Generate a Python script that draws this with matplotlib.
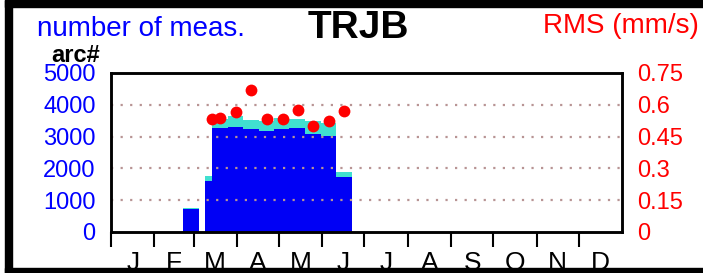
import numpy as np
import matplotlib
matplotlib.use("Agg")
import matplotlib.pyplot as plt
from matplotlib.patches import Rectangle

plt.rcParams['font.family'] = ['Liberation Sans', 'DejaVu Sans']

# day-of-year bins (left/right edges) and counts
bin_left = [51.4, 67.1, 72.4, 83.6, 94.3, 105.7, 116.6, 127.4, 138.6, 149.8, 160.5]
bin_right = [62.6, 72.4, 83.6, 94.3, 105.7, 116.6, 127.4, 138.6, 149.8, 160.5, 172.1]
arc_main = [716, 1600, 3262, 3293, 3230, 3177, 3252, 3262, 3095, 3019, 1738]
arc_total = [770, 1748, 3568, 3640, 3536, 3500, 3577, 3546, 3492, 3442, 1883]

# RMS points
rms_day = [72.4, 78.1, 89.1, 100.1, 111.1, 122.6, 133.4, 144.5, 155.5, 166.6]
rms_val = [0.535, 0.540, 0.566, 0.670, 0.535, 0.535, 0.574, 0.502, 0.522, 0.570]

month_start = [0, 31, 59, 90, 120, 151, 181, 212, 243, 273, 304, 334, 365]
month_lab = ['J', 'F', 'M', 'A', 'M', 'J', 'J', 'A', 'S', 'O', 'N', 'D']

left_ticks = [0, 1000, 2000, 3000, 4000, 5000]
right_ticks = [0, 0.15, 0.3, 0.45, 0.6, 0.75]
right_lab = ['0', '0.15', '0.3', '0.45', '0.6', '0.75']

W, H = 703, 273
fig = plt.figure(figsize=(W / 100, H / 100), dpi=100)
ax = fig.add_axes([111 / W, 41 / H, 511 / W, 159 / H])

left = np.array(bin_left)
width = np.array(bin_right) - left
main = np.array(arc_main)
extra = np.array(arc_total) - main
ax.bar(left, main, width=width, align='edge', color='#0000f5', linewidth=0, zorder=1)
ax.bar(left, extra, bottom=main, width=width, align='edge', color='#40e0d0', linewidth=0, zorder=1)

for v in left_ticks[1:-1]:
    ax.axhline(v, color='#b89494', lw=1.6, dashes=(1, 3.3), zorder=2)

ax.set_xlim(0, 365)
ax.set_ylim(0, 5000)
ax.set_yticks(left_ticks)
ax.tick_params(axis='y', length=0, pad=11, labelsize=17, labelcolor='blue')

mids = [(month_start[i] + month_start[i + 1]) / 2 for i in range(12)]
ax.set_xticks(month_start[:-1])
ax.set_xticklabels([])
ax.set_xticks(mids, minor=True)
ax.set_xticklabels(month_lab, minor=True)
ax.tick_params(axis='x', which='major', direction='out', length=11, width=1.5)
ax.tick_params(axis='x', which='minor', length=0, pad=14, labelsize=19)

for s in ax.spines.values():
    s.set_linewidth(1.8)

ax2 = ax.twinx()
ax2.set_ylim(0, 0.75)
ax2.set_yticks(right_ticks)
ax2.set_yticklabels(right_lab)
ax2.tick_params(axis='y', length=0, pad=11, labelsize=17, labelcolor='red')
for s in ax2.spines.values():
    s.set_linewidth(1.8)
ax2.plot(rms_day, rms_val, 'o', color='red', markersize=8.5, markeredgewidth=0, zorder=3, clip_on=False)

fig.text(37 / W, 1 - 36 / H, 'number of meas.', color='blue', fontsize=20, va='baseline')
fig.text(308 / W, 1 - 38 / H, 'TRJB', color='black', fontsize=28, fontweight='bold', va='baseline')
fig.text(543 / W, 1 - 33 / H, 'RMS (mm/s)', color='red', fontsize=20, va='baseline')
fig.text(51 / W, 1 - 62 / H, 'arc#', color='black', fontsize=17, fontweight='bold', va='baseline')

# outer frame
fig.add_artist(Rectangle((5 / W, 0), 7 / W, 1, transform=fig.transFigure, color='black', zorder=10))
fig.add_artist(Rectangle((5 / W, 1 - 7 / H), 1, 7 / H, transform=fig.transFigure, color='black', zorder=10))
fig.add_artist(Rectangle((5 / W, 0), 1, 5 / H, transform=fig.transFigure, color='black', zorder=10))

plt.savefig('out.png', dpi=100)
plt.close()
